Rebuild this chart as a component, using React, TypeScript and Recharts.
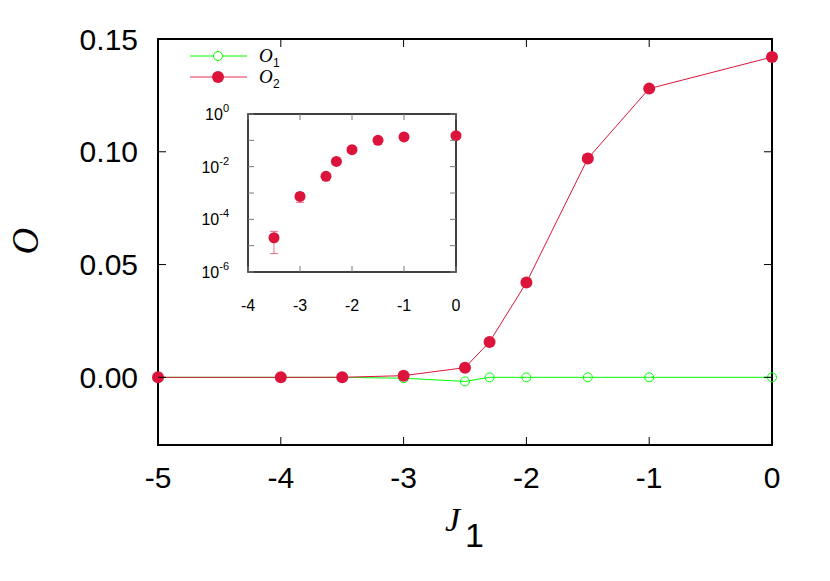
import React from 'react';
import { LineChart, Line, XAxis, YAxis, ReferenceArea, ErrorBar, Legend, Label } from 'recharts';

// ---------- data ----------
const jValues = [-5, -4, -3.5, -3, -2.5, -2.3, -2, -1.5, -1, 0];
const o1Values = [0, 0, 0, -0.0004, -0.0018, 0, 0, 0, 0, 0];
const o2Values = [0, 0, 0.00002, 0.00075, 0.0043, 0.0157, 0.042, 0.097, 0.128, 0.142];
const xTicks = [-5, -4, -3, -2, -1, 0];
const yTicks = [0, 0.05, 0.1, 0.15];
const yTickLabels = ['0.00', '0.05', '0.10', '0.15'];

const insetJ = [-3.5, -3, -2.5, -2.3, -2, -1.5, -1, 0];
const insetO2 = [2e-5, 7.4e-4, 4.3e-3, 0.0158, 0.044, 0.1, 0.135, 0.15];
const insetErr = [1.5e-5, 3e-4, 0, 0, 0, 0, 0, 0];
const insetXTicks = [-4, -3, -2, -1, 0];
const insetYTicks = [1e-6, 1e-5, 1e-4, 1e-3, 1e-2, 1e-1, 1];
const insetYExponents = ['-6', '', '-4', '', '-2', '', '0'];

const mainData = jValues.map((j, i) => ({ j, o1: o1Values[i], o2: o2Values[i] }));
const insetData = insetJ.map((j, i) => ({ j, o2: insetO2[i], err: insetErr[i] }));

// ---------- styling ----------
const CRIMSON = '#dc143c';
const GREEN = '#00ff00';
const SANS = '"Liberation Sans", Arial, Helvetica, sans-serif';
const SERIF = '"Liberation Serif", "Times New Roman", serif';

// main plot box (page coords; wrapper is shifted onto the page origin)
const M = { left: 158, right: 772, top: 39, bottom: 445 };
const MW = 830;
const MH = 581;
const M_YAXIS_W = 60;
const M_XAXIS_H = 60;

// inset plot box (inset svg coords)
const I = { left: 70, right: 278, top: 16, bottom: 174 };
const IW = 310;
const IH = 230;
const I_YAXIS_W = 40;
const I_XAXIS_H = 30;

const MainXTick = (props: any) => {
  const x = props.x;
  return (
    <g>
      <line x1={x} x2={x} y1={M.bottom} y2={M.bottom - 8} stroke="#000" strokeWidth={1} />
      <line x1={x} x2={x} y1={M.top} y2={M.top + 8} stroke="#000" strokeWidth={1} />
      <text x={x} y={M.bottom + 43} textAnchor="middle" fontSize={30} fontFamily={SANS} fill="#000">
        {String(props.payload.value)}
      </text>
    </g>
  );
};

const MainYTick = (props: any) => {
  const y = props.y;
  return (
    <g>
      <line x1={M.left} x2={M.left + 8} y1={y} y2={y} stroke="#000" strokeWidth={1} />
      <line x1={M.right} x2={M.right - 8} y1={y} y2={y} stroke="#000" strokeWidth={1} />
      <text x={138} y={y + 10.5} textAnchor="end" fontSize={30} fontFamily={SANS} fill="#000">
        {yTickLabels[props.index]}
      </text>
    </g>
  );
};

const InsetXTick = (props: any) => {
  const x = props.x;
  return (
    <g>
      <line x1={x} x2={x} y1={I.bottom} y2={I.bottom - 6} stroke="#777" strokeWidth={1} />
      <line x1={x} x2={x} y1={I.top} y2={I.top + 6} stroke="#777" strokeWidth={1} />
      <text x={x} y={I.bottom + 39} textAnchor="middle" fontSize={16} fontFamily={SANS} fill="#000">
        {String(props.payload.value)}
      </text>
    </g>
  );
};

const InsetYTick = (props: any) => {
  const y = props.y;
  const exp = insetYExponents[props.index];
  return (
    <g>
      <line x1={I.left} x2={I.left + 6} y1={y} y2={y} stroke="#777" strokeWidth={1} />
      <line x1={I.right} x2={I.right - 6} y1={y} y2={y} stroke="#777" strokeWidth={1} />
      {exp !== '' && (
        <text x={I.left - 19} y={y + 6} textAnchor="end" fontSize={16} fontFamily={SANS} fill="#000">
          10
          <tspan fontSize={11} dy={-8}>{exp}</tspan>
        </text>
      )}
    </g>
  );
};

const renderLegend = () => (
  <svg width={120} height={50} style={{ overflow: 'visible' }}>
    <line x1={10} x2={67} y1={16} y2={16} stroke={GREEN} strokeWidth={1} />
    <circle cx={38} cy={16} r={4.5} fill="#fff" stroke={GREEN} strokeWidth={1} />
    <text x={79} y={22} fontSize={19} fontStyle="italic" fontFamily={SERIF} fill="#000">O</text>
    <text x={93} y={27} fontSize={12} fontFamily={SANS} fill="#000">1</text>
    <line x1={10} x2={67} y1={37} y2={37} stroke={CRIMSON} strokeOpacity={0.6} strokeWidth={1.5} />
    <circle cx={38} cy={37} r={6} fill={CRIMSON} />
    <text x={79} y={43} fontSize={19} fontStyle="italic" fontFamily={SERIF} fill="#000">O</text>
    <text x={93} y={48} fontSize={12} fontFamily={SANS} fill="#000">2</text>
  </svg>
);

const XTitle = () => (
  <g>
    <text x={445} y={531} fontSize={34} fontStyle="italic" fontFamily={SERIF} fill="#000">J</text>
    <text x={465} y={546.5} fontSize={34} fontFamily={SANS} fill="#000">1</text>
  </g>
);

const YTitle = () => (
  <text
    x={38}
    y={241}
    transform="rotate(-90, 38, 241)"
    textAnchor="middle"
    fontSize={37}
    fontStyle="italic"
    fontFamily={SERIF}
    fill="#000"
  >
    O
  </text>
);

export default function App() {
  return (
    <div style={{ position: 'relative', width: MW, height: MH, margin: '-8px 0 0 -8px' }}>
      <LineChart
        width={MW}
        height={MH}
        data={mainData}
        margin={{
          top: M.top,
          right: MW - M.right,
          bottom: MH - M.bottom - M_XAXIS_H,
          left: M.left - M_YAXIS_W,
        }}
      >
        <XAxis
          dataKey="j"
          type="number"
          domain={[-5, 0]}
          ticks={xTicks}
          height={M_XAXIS_H}
          axisLine={false}
          tickLine={false}
          tick={<MainXTick />}
          interval={0}
        >
          <Label content={() => <XTitle />} />
        </XAxis>
        <YAxis
          type="number"
          domain={[-0.03, 0.15]}
          ticks={yTicks}
          width={M_YAXIS_W}
          axisLine={false}
          tickLine={false}
          tick={<MainYTick />}
          interval={0}
          allowDataOverflow
        >
          <Label content={() => <YTitle />} />
        </YAxis>
        <ReferenceArea x1={-5} x2={0} y1={-0.03} y2={0.15} fill="none" fillOpacity={0} stroke="#000" strokeWidth={2} />
        <Line
          dataKey="o1"
          stroke={GREEN}
          strokeWidth={1}
          dot={{ r: 4.5, fill: 'none', stroke: GREEN, strokeWidth: 1 }}
          activeDot={false}
          isAnimationActive={false}
        />
        <Line
          dataKey="o2"
          stroke={CRIMSON}
          strokeWidth={1}
          dot={{ r: 6, fill: CRIMSON, stroke: 'none' }}
          activeDot={false}
          isAnimationActive={false}
        />
        <Legend
          layout="horizontal"
          verticalAlign="middle"
          align="center"
          content={renderLegend}
          wrapperStyle={{ position: 'absolute', left: 180, top: 40, width: 120, height: 50 }}
        />
      </LineChart>

      <div style={{ position: 'absolute', left: 178, top: 98, width: IW, height: IH }}>
        <LineChart
          width={IW}
          height={IH}
          data={insetData}
          margin={{
            top: I.top,
            right: IW - I.right,
            bottom: IH - I.bottom - I_XAXIS_H,
            left: I.left - I_YAXIS_W,
          }}
        >
          <XAxis
            dataKey="j"
            type="number"
            domain={[-4, 0]}
            ticks={insetXTicks}
            height={I_XAXIS_H}
            axisLine={false}
            tickLine={false}
            tick={<InsetXTick />}
            interval={0}
          />
          <YAxis
            type="number"
            scale="log"
            domain={[1e-6, 1]}
            ticks={insetYTicks}
            width={I_YAXIS_W}
            axisLine={false}
            tickLine={false}
            tick={<InsetYTick />}
            interval={0}
            allowDataOverflow
          />
          <ReferenceArea x1={-4} x2={0} y1={1e-6} y2={1} fill="none" fillOpacity={0} stroke="#000" strokeWidth={1.5} />
          <Line
            dataKey="o2"
            stroke="none"
            dot={{ r: 5.5, fill: CRIMSON, stroke: 'none' }}
            activeDot={false}
            isAnimationActive={false}
          >
            <ErrorBar dataKey="err" width={4} stroke={CRIMSON} strokeOpacity={0.6} strokeWidth={1} direction="y" />
          </Line>
        </LineChart>
      </div>
    </div>
  );
}
